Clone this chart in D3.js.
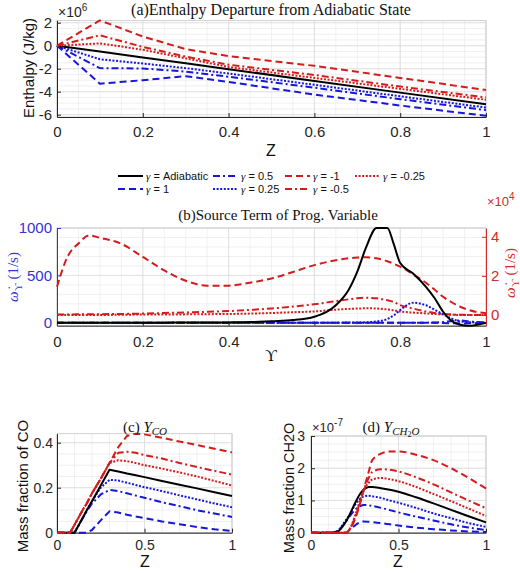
<!DOCTYPE html>
<html>
<head>
<meta charset="utf-8">
<script src="https://cdn.jsdelivr.net/npm/d3@7"></script>
<style>
  body { margin: 0; background: #fff; }
  svg { display: block; }
</style>
</head>
<body>
<svg id="chart" width="520" height="573"></svg>
<script>
// Series keys and legend labels (legend is column-major, 2 rows)
const seriesKeys = ["adiab", "g1", "g05", "g025", "gm1", "gm05", "gm025"];
const legendLabels = ["Adiabatic", "1", "0.5", "0.25", "-1", "-0.5", "-0.25"];

// (a) Enthalpy departure, units of 1e6 J/kg
const zA = [0, 0.1, 0.2, 0.3, 0.4, 0.6, 0.8, 1];
const hAdiab = [0, -0.51, -1.02, -1.53, -2.04, -3.06, -4.08, -5.1];
const hG1 = [0, -3.3, -3.0, -2.65, -3.15, -4.25, -5.2, -6.1];
const hG05 = [0, -1.95, -1.98, -2.25, -2.7, -3.65, -4.65, -5.6];
const hG025 = [0, -1.18, -1.55, -1.95, -2.42, -3.4, -4.4, -5.38];
const hGm1 = [0, 2.2, 0.8, -0.3, -0.9, -1.75, -2.8, -3.85];
const hGm05 = [0, 0.9, -0.1, -0.95, -1.65, -2.55, -3.55, -4.5];
const hGm025 = [0, 0.2, -0.35, -1.1, -1.85, -2.8, -3.75, -4.7];

// (b) Source term vs progress variable
const uB = [0, 0.025, 0.05, 0.075, 0.1, 0.15, 0.2, 0.25, 0.3, 0.35, 0.4, 0.45, 0.5, 0.55, 0.6, 0.65, 0.68, 0.7, 0.72, 0.745, 0.77, 0.785, 0.8, 0.83, 0.86, 0.88, 0.9, 0.92, 0.94, 0.96, 1];
// left axis (1/s)
const wAdiab = [0, 0, 0, 0, 0, 0, 1, 2, 3, 4, 5, 8, 18, 29, 64, 186, 350, 540, 790, 1000, 1000, 830, 630, 520, 380, 262, 117, 20, -20, -30, 0];
const wG1 = [0, 0, 0, 0, 0, 0, 0, 0, 0, 0, 0, 0, 0, 0, 0, 0, 0, 0, 0, 0, 0, 0, 0, 0, 0, 0, -2, -4, -6, -5, 0];
const wG05 = [0, 0, 0, 0, 0, 0, 0, 0, 0, 0, 0, 0, 0, 0, 0, 0, 0, 0, 0, 0, 0, 0, 0, 0, 2, 4, 8, 20, 25, 15, 5];
const wG025 = [0, 0, 0, 0, 0, 0, 0, 0, 0, 0, 0, 0, 0, 1, 1, 2, 3, 4, 6, 15, 40, 80, 135, 212, 185, 140, 90, 45, 15, 8, 0];
// right axis (units of 1e4 1/s)
const wGm1 = [1.44, 3.0, 3.66, 4.07, 3.95, 3.64, 2.97, 2.28, 1.75, 1.5, 1.5, 1.65, 1.87, 2.2, 2.55, 2.8, 2.9, 2.94, 2.95, 2.9, 2.75, 2.62, 2.47, 2.08, 1.65, 1.3, 0.93, 0.65, 0.42, 0.25, 0.09];
const wGm05 = [0.02, 0.02, 0.03, 0.03, 0.04, 0.05, 0.07, 0.1, 0.13, 0.16, 0.2, 0.26, 0.33, 0.43, 0.55, 0.71, 0.8, 0.86, 0.88, 0.85, 0.75, 0.66, 0.5, 0.33, 0.18, 0.1, 0.05, 0.02, 0.01, 0, 0];
const wGm025 = [0, 0, 0, 0, 0, 0.01, 0.02, 0.02, 0.03, 0.04, 0.05, 0.07, 0.1, 0.14, 0.18, 0.27, 0.31, 0.33, 0.34, 0.33, 0.28, 0.24, 0.18, 0.12, 0.08, 0.05, 0.03, 0.01, 0, 0, 0];

// (c) Mass fraction of CO
const zC = [0, 0.05, 0.075, 0.1, 0.15, 0.17, 0.2, 0.25, 0.3, 0.35, 0.4, 0.45, 0.5, 0.6, 0.7, 0.8, 0.9, 1];
const coAdiab = [0, 0, 0, 0, 0.07, 0.1, 0.14, 0.21, 0.28, 0.272, 0.263, 0.255, 0.247, 0.23, 0.213, 0.197, 0.18, 0.163];
const coG1 = [0, 0, 0, 0, 0, 0, 0.012, 0.055, 0.095, 0.09, 0.08, 0.072, 0.065, 0.05, 0.038, 0.025, 0.015, 0.008];
const coG05 = [0, 0, 0, 0, 0.07, 0.095, 0.13, 0.17, 0.19, 0.185, 0.175, 0.165, 0.155, 0.135, 0.118, 0.1, 0.085, 0.07];
const coG025 = [0, 0, 0, 0, 0.07, 0.1, 0.14, 0.2, 0.235, 0.232, 0.222, 0.212, 0.202, 0.185, 0.166, 0.148, 0.13, 0.113];
const coGm1 = [0, 0, 0, 0.035, 0.105, 0.13, 0.175, 0.24, 0.31, 0.38, 0.43, 0.44, 0.437, 0.422, 0.405, 0.39, 0.373, 0.357];
const coGm05 = [0, 0, 0, 0.035, 0.105, 0.13, 0.175, 0.24, 0.31, 0.355, 0.36, 0.355, 0.345, 0.33, 0.31, 0.292, 0.275, 0.258];
const coGm025 = [0, 0, 0, 0.035, 0.105, 0.13, 0.175, 0.24, 0.31, 0.322, 0.318, 0.31, 0.3, 0.285, 0.268, 0.25, 0.23, 0.21];

// (d) Mass fraction of CH2O, units of 1e-7
const zD = [0, 0.1, 0.13, 0.15, 0.2, 0.22, 0.25, 0.28, 0.3, 0.33, 0.35, 0.4, 0.45, 0.5, 0.6, 0.7, 0.8, 0.9, 1];
const chAdiab = [0, 0, 0.01, 0.03, 0.35, 0.55, 0.9, 1.2, 1.33, 1.42, 1.42, 1.38, 1.33, 1.27, 1.1, 0.91, 0.71, 0.51, 0.32];
const chG1 = [0, 0, 0, 0, 0, 0.08, 0.22, 0.32, 0.35, 0.34, 0.33, 0.3, 0.26, 0.22, 0.16, 0.11, 0.07, 0.04, 0.02];
const chG05 = [0, 0, 0.01, 0.05, 0.35, 0.5, 0.7, 0.82, 0.86, 0.85, 0.83, 0.77, 0.7, 0.63, 0.5, 0.38, 0.26, 0.16, 0.08];
const chG025 = [0, 0, 0.01, 0.05, 0.4, 0.55, 0.85, 1.05, 1.12, 1.15, 1.13, 1.08, 1.0, 0.93, 0.77, 0.6, 0.45, 0.3, 0.18];
const chGm1 = [0, 0, 0, 0, 0, 0.1, 0.4, 0.9, 1.3, 1.9, 2.25, 2.45, 2.52, 2.52, 2.42, 2.25, 2.0, 1.7, 1.37];
const chGm05 = [0, 0, 0, 0, 0, 0.1, 0.45, 0.95, 1.3, 1.7, 1.88, 1.97, 1.95, 1.9, 1.72, 1.5, 1.25, 1.0, 0.76];
const chGm025 = [0, 0, 0, 0, 0, 0.1, 0.5, 1.0, 1.3, 1.55, 1.65, 1.7, 1.66, 1.6, 1.42, 1.2, 0.98, 0.75, 0.52];

const BLUE = "#1616dc", RED = "#d41c1c";
const styles = {
  adiab: { color: "#000", dash: null },
  g1:    { color: BLUE, dash: "7,4" },
  g05:   { color: BLUE, dash: "7,3,2,3" },
  g025:  { color: BLUE, dash: "2,1.6" },
  gm1:   { color: RED, dash: "7,4" },
  gm05:  { color: RED, dash: "7,3,2,3" },
  gm025: { color: RED, dash: "2,1.6" }
};
const SANS = "'Liberation Sans', Arial, sans-serif";
const SERIF = "'Liberation Serif', 'Times New Roman', serif";
const AXC = "#262626";
const LBLUE = "#3434d0", LRED = "#d42a2a";

const svg = d3.select("#chart");
svg.append("rect").attr("width", 520).attr("height", 573).attr("fill", "#fff");

function range(a, b, s) {
  const out = [];
  for (let i = 0; a + i * s <= b + 1e-9; i++) out.push(+(a + i * s).toFixed(6));
  return out;
}

const fmt = d => String(d);

function panel(o) {
  const g = svg.append("g");
  const x = d3.scaleLinear().domain(o.xDom).range([o.left, o.right]);
  const y = d3.scaleLinear().domain(o.yDom).range([o.bottom, o.top]);

  // grid, minor then major
  const gx = range(o.xDom[0], o.xDom[1], o.xMinor);
  const gy = range(Math.ceil(o.yDom[0] / o.yMinor) * o.yMinor, o.yDom[1], o.yMinor);
  g.selectAll(".gxm").data(gx).enter().append("line")
    .attr("x1", d => x(d)).attr("x2", d => x(d)).attr("y1", o.top).attr("y2", o.bottom)
    .attr("stroke", "#ececec").attr("stroke-width", 0.8);
  g.selectAll(".gym").data(gy).enter().append("line")
    .attr("y1", d => y(d)).attr("y2", d => y(d)).attr("x1", o.left).attr("x2", o.right)
    .attr("stroke", "#ececec").attr("stroke-width", 0.8);
  g.selectAll(".gxM").data(o.xTicks).enter().append("line")
    .attr("x1", d => x(d)).attr("x2", d => x(d)).attr("y1", o.top).attr("y2", o.bottom)
    .attr("stroke", "#dcdcdc").attr("stroke-width", 0.8);
  g.selectAll(".gyM").data(o.yTicks).enter().append("line")
    .attr("y1", d => y(d)).attr("y2", d => y(d)).attr("x1", o.left).attr("x2", o.right)
    .attr("stroke", "#dcdcdc").attr("stroke-width", 0.8);

  // box
  g.append("rect").attr("x", o.left).attr("y", o.top)
    .attr("width", o.right - o.left).attr("height", o.bottom - o.top)
    .attr("fill", "none").attr("stroke", "#c8c8c8").attr("stroke-width", 0.8);

  const xa = g.append("g").attr("transform", `translate(0,${o.bottom})`)
    .call(d3.axisBottom(x).tickValues(o.xTicks).tickSizeInner(-4).tickSizeOuter(0)
      .tickPadding(o.xPad).tickFormat(fmt));
  xa.select(".domain").attr("stroke", AXC);
  xa.selectAll(".tick line").attr("stroke", AXC);
  xa.selectAll("text").attr("font-family", SANS).attr("font-size", o.fs).attr("fill", AXC);

  const ya = g.append("g").attr("transform", `translate(${o.left},0)`)
    .call(d3.axisLeft(y).tickValues(o.yTicks).tickSizeInner(-4).tickSizeOuter(0)
      .tickPadding(o.yPad).tickFormat(fmt));
  const yc = o.yColor || AXC;
  ya.select(".domain").attr("stroke", yc);
  ya.selectAll(".tick line").attr("stroke", yc);
  ya.selectAll("text").attr("font-family", SANS).attr("font-size", o.fs).attr("fill", yc);

  return { g, x, y };
}

function drawLines(p, xs, seriesList, yScale, curve) {
  const line = d3.line().x(d => p.x(d[0])).y(d => yScale(d[1])).curve(curve || d3.curveLinear);
  seriesList.forEach(s => {
    const st = styles[s.key];
    p.g.append("path")
      .datum(xs.map((xv, i) => [xv, s.vals[i]]))
      .attr("d", line)
      .attr("fill", "none")
      .attr("stroke", st.color)
      .attr("stroke-width", 2)
      .attr("stroke-dasharray", st.dash)
      .attr("stroke-linejoin", "round");
  });
}

function label(x, y, rot, size, fam, color, anchor) {
  return svg.append("text")
    .attr("transform", `translate(${x},${y})` + (rot ? ` rotate(${rot})` : ""))
    .attr("font-family", fam).attr("font-size", size).attr("fill", color)
    .attr("text-anchor", anchor || "middle");
}

// ---------- (a) ----------
const pa = panel({
  left: 57, right: 486, top: 20.4, bottom: 117,
  xDom: [0, 1], yDom: [-6.2, 2.2],
  xTicks: [0, 0.2, 0.4, 0.6, 0.8, 1], yTicks: [-6, -4, -2, 0, 2],
  xMinor: 0.05, yMinor: 0.5, fs: 15, xPad: 9, yPad: 5
});
drawLines(pa, zA, [
  { key: "g1", vals: hG1 }, { key: "g05", vals: hG05 }, { key: "g025", vals: hG025 },
  { key: "adiab", vals: hAdiab },
  { key: "gm1", vals: hGm1 }, { key: "gm05", vals: hGm05 }, { key: "gm025", vals: hGm025 }
], pa.y);

label(271, 15, 0, 16, SERIF, "#111").text("(a)Enthalpy Departure from Adiabatic State");
const xa6 = label(58, 17, 0, 14, SANS, AXC, "start");
xa6.append("tspan").text("\u00d710");
xa6.append("tspan").attr("dy", -6).attr("font-size", 10).text("6");
label(34, 68, -90, 15, SANS, "#111").text("Enthalpy (J/kg)");
label(271, 156, 0, 16, SANS, "#111").text("Z");

// legend
const legX = [118, 213, 285, 355];
const legY = [176, 189];
seriesKeys.forEach((k, i) => {
  const col = Math.floor(i / 2), row = i % 2;
  const st = styles[k];
  svg.append("line")
    .attr("x1", legX[col]).attr("x2", legX[col] + 25)
    .attr("y1", legY[row]).attr("y2", legY[row])
    .attr("stroke", st.color).attr("stroke-width", 2).attr("stroke-dasharray", st.dash);
  const t = label(legX[col] + 28, legY[row] + 4, 0, 11, SANS, "#111", "start");
  t.append("tspan").attr("font-family", SERIF).attr("font-style", "italic").text("\u03b3");
  t.append("tspan").text(" = " + legendLabels[i]);
});

// ---------- (b) ----------
const pb = panel({
  left: 57, right: 486, top: 228, bottom: 325.7,
  xDom: [0, 1], yDom: [-30, 1000],
  xTicks: [0, 0.2, 0.4, 0.6, 0.8, 1], yTicks: [0, 500, 1000],
  xMinor: 0.05, yMinor: 100, fs: 15, xPad: 11, yPad: 5, yColor: LBLUE
});
const yR = d3.scaleLinear().domain([-0.55, 4.45]).range([325.7, 228]);
const ra = pb.g.append("g").attr("transform", "translate(486,0)")
  .call(d3.axisRight(yR).tickValues([0, 2, 4]).tickSizeInner(-4).tickSizeOuter(0)
    .tickPadding(5).tickFormat(fmt));
ra.select(".domain").attr("stroke", LRED);
ra.selectAll(".tick line").attr("stroke", LRED);
ra.selectAll("text").attr("font-family", SANS).attr("font-size", 15).attr("fill", LRED);

drawLines(pb, uB, [
  { key: "gm1", vals: wGm1 }, { key: "gm05", vals: wGm05 }, { key: "gm025", vals: wGm025 }
], yR, d3.curveMonotoneX);
drawLines(pb, uB, [
  { key: "g1", vals: wG1 }, { key: "g05", vals: wG05 }, { key: "g025", vals: wG025 },
  { key: "adiab", vals: wAdiab }
], pb.y, d3.curveMonotoneX);

label(278, 220, 0, 15, SERIF, "#111").text("(b)Source Term of Prog. Variable");
const xb4 = label(487, 206, 0, 13, SANS, LRED, "start");
xb4.append("tspan").text("\u00d710");
xb4.append("tspan").attr("dy", -6).attr("font-size", 10).text("4");
function omegaLabel(t) {
  t.append("tspan").attr("font-style", "italic").text("\u03c9\u0307");
  t.append("tspan").attr("dy", 4).attr("font-size", 11).text("\u03d2");
  t.append("tspan").attr("dy", -4).text(" (1/s)");
}
omegaLabel(label(18, 277, -90, 15, SERIF, LBLUE));
omegaLabel(label(515, 273, -90, 15, SERIF, LRED));
label(271, 361, 0, 16, SERIF, "#111").text("\u03d2");

// ---------- (c) ----------
const pc = panel({
  left: 57, right: 232, top: 433.7, bottom: 532.7,
  xDom: [0, 1], yDom: [0, 0.44],
  xTicks: [0, 0.5, 1], yTicks: [0, 0.2, 0.4],
  xMinor: 0.1, yMinor: 0.05, fs: 14, xPad: 7, yPad: 4
});
drawLines(pc, zC, [
  { key: "g1", vals: coG1 }, { key: "g05", vals: coG05 }, { key: "g025", vals: coG025 },
  { key: "adiab", vals: coAdiab },
  { key: "gm1", vals: coGm1 }, { key: "gm05", vals: coGm05 }, { key: "gm025", vals: coGm025 }
], pc.y);
const tc = label(145, 432, 0, 15, SERIF, "#111");
tc.append("tspan").text("(c) ");
tc.append("tspan").attr("font-style", "italic").text("Y");
tc.append("tspan").attr("font-style", "italic").attr("font-size", 11).attr("dy", 3).text("CO");
label(28, 486, -90, 15, SANS, "#111").text("Mass fraction of CO");
label(145, 567, 0, 16, SANS, "#111").text("Z");

// ---------- (d) ----------
const pd = panel({
  left: 311, right: 486, top: 436, bottom: 532.7,
  xDom: [0, 1], yDom: [0, 3],
  xTicks: [0, 0.5, 1], yTicks: [0, 1, 2, 3],
  xMinor: 0.1, yMinor: 0.25, fs: 14, xPad: 7, yPad: 6
});
drawLines(pd, zD, [
  { key: "g1", vals: chG1 }, { key: "g05", vals: chG05 }, { key: "g025", vals: chG025 },
  { key: "adiab", vals: chAdiab },
  { key: "gm1", vals: chGm1 }, { key: "gm05", vals: chGm05 }, { key: "gm025", vals: chGm025 }
], pd.y, d3.curveMonotoneX);
const xd7 = label(312, 432, 0, 13, SANS, AXC, "start");
xd7.append("tspan").text("\u00d710");
xd7.append("tspan").attr("dy", -6).attr("font-size", 10).text("-7");
const td = label(391, 432, 0, 15, SERIF, "#111");
td.append("tspan").text("(d) ");
td.append("tspan").attr("font-style", "italic").text("Y");
td.append("tspan").attr("font-style", "italic").attr("font-size", 11).attr("dy", 3).text("CH");
td.append("tspan").attr("font-size", 8).attr("dy", 2).text("2");
td.append("tspan").attr("font-style", "italic").attr("font-size", 11).attr("dy", -2).text("O");
label(294, 488, -90, 14.5, SANS, "#111").text("Mass fraction CH2O");
label(398, 567, 0, 16, SANS, "#111").text("Z");
</script>
</body>
</html>
